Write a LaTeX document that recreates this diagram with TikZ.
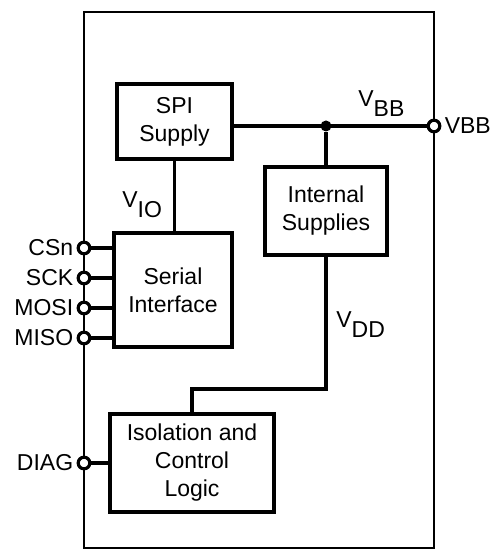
\documentclass[tikz,border=0pt]{standalone}
\usepackage{fontspec}
\setmainfont{Liberation Sans}
\usepackage{tikz}
\usetikzlibrary{positioning, calc}

\tikzset{
  block/.style={draw, line width=1.7pt, align=center, inner sep=0pt, font=\fontsize{11.5}{14}\selectfont},
  wire/.style={line width=1.7pt},
  pin/.style={circle, draw, line width=1.6pt, fill=white, minimum size=5.8pt, inner sep=0pt},
  pinlabel/.style={font=\fontsize{11.5}{14}\selectfont, inner sep=1.5pt},
  netlabel/.style={font=\fontsize{11.5}{14}\selectfont, inner sep=0pt}
}

\begin{document}
\begin{tikzpicture}[x=0.5pt, y=-0.5pt]
  \useasboundingbox (0,0) rectangle (496,550);

  % Device outline
  \draw[line width=0.85pt] (84,12) rectangle (434,548);

  % Blocks
  \node[block, minimum width=57.5pt, minimum height=37.5pt] (spi) at (174.5,121.5) {SPI\\Supply};
  \node[block, minimum width=61pt, minimum height=44pt] (intsup) at (326,211) {Internal\\Supplies};
  \node[block, minimum width=59pt, minimum height=57pt] (serial) at (173,290) {Serial\\Interface};
  \node[block, minimum width=82pt, minimum height=49pt] (iso) at (192,463) {Isolation and\\Control\\Logic};

  % Supply rail
  \coordinate (vbbpin) at (434,126);
  \node[circle, fill, minimum size=5.5pt, inner sep=0pt] (dot) at (326,126) {};
  \draw[wire] (vbbpin -| spi.east) -- (vbbpin);
  \draw[wire] (dot) -- (intsup.north);
  \draw[wire] (spi.south) -- (spi.south |- serial.north);
  \coordinate (vddbend) at (326,389);
  \draw[wire] (intsup.south) -- (vddbend) -| (iso.north);

  % Net labels
  \node[netlabel, anchor=base west] (vbblbl) at (358,107) {V\raisebox{-5pt}{BB}};
  \node[netlabel, anchor=base west] (violbl) at (122,208) {V\raisebox{-5pt}{IO}};
  \node[netlabel, anchor=base west] (vddlbl) at (336,327) {V\raisebox{-5pt}{DD}};

  % Pins
  \foreach \name/\ypos in {CSn/248, SCK/278, MOSI/308, MISO/338} {
    \coordinate (p\name) at (84,\ypos);
    \draw[wire] (p\name) -- (p\name -| serial.west);
    \node[pin] (c\name) at (p\name) {};
    \node[pinlabel, anchor=east] (l\name) at (c\name.west) {\name};
  }
  \coordinate (pDIAG) at (84,463);
  \draw[wire] (pDIAG) -- (iso.west);
  \node[pin] (cDIAG) at (pDIAG) {};
  \node[pinlabel, anchor=east] (lDIAG) at (cDIAG.west) {DIAG};

  \node[pin] (cVBB) at (vbbpin) {};
  \node[pinlabel, anchor=west] (lVBB) at (cVBB.east) {VBB};
\end{tikzpicture}
\end{document}
